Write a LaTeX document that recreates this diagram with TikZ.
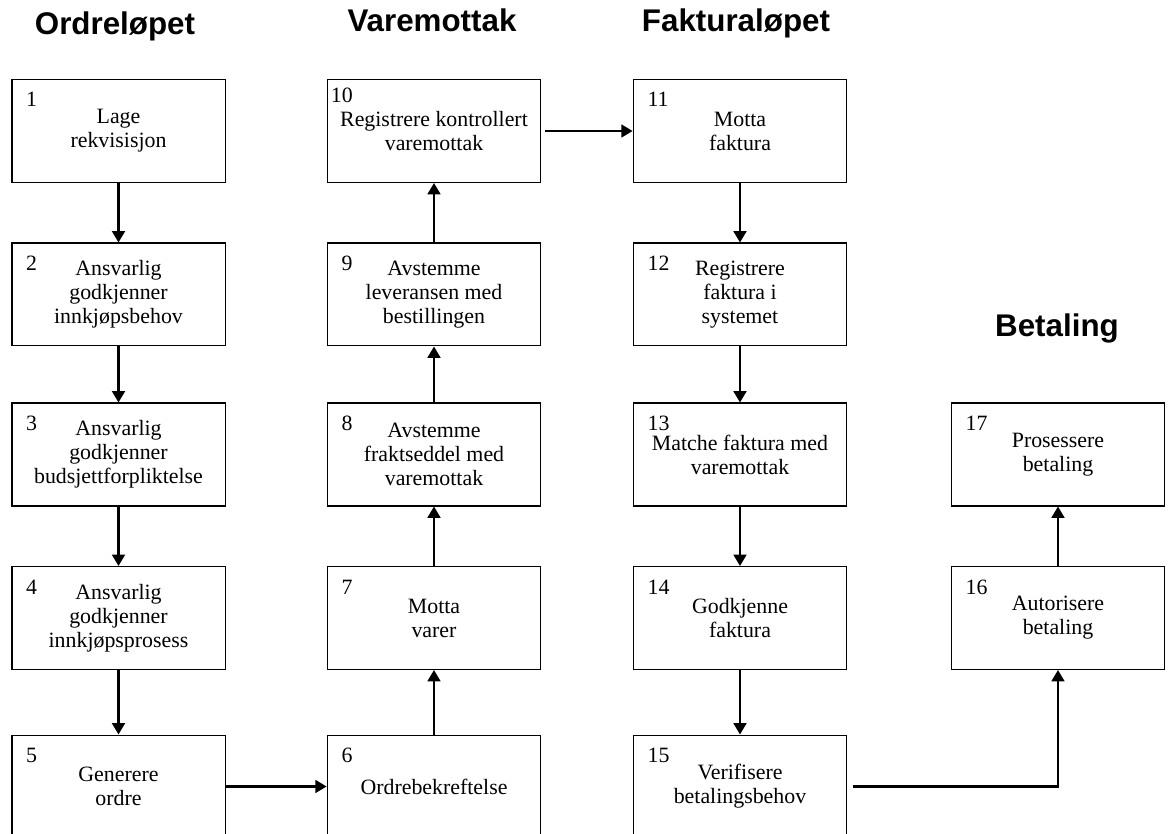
\documentclass[tikz,border=0pt]{standalone}
\usepackage{fontspec}
\setmainfont{Liberation Serif}
\setsansfont{Liberation Sans}
\usetikzlibrary{arrows.meta}

\tikzset{
  stepbox/.style={draw, line width=1pt, minimum width=160pt, minimum height=77pt,
    inner sep=0pt, align=center, font=\fontsize{16.4}{18}\selectfont},
  nr/.style={anchor=base west, inner sep=0pt, font=\fontsize{16.4}{18}\selectfont,
    xshift=11pt, yshift=-21pt},
  lane/.style={anchor=base, inner sep=0pt, font=\sffamily\bfseries\fontsize{23.5}{28}\selectfont},
  flow/.style={line width=2pt, -{Triangle[length=8.5pt,width=9.5pt]}}
}

\begin{document}
\begin{tikzpicture}[x=0.75pt,y=-0.75pt]
\clip (0,0) rectangle (1172,834);
\useasboundingbox (0,0) rectangle (1172,834);

% lanes
\node[lane] (hOrdre) at (115,35) {Ordreløpet};
\node[lane] (hVare) at (432,32) {Varemottak};
\node[lane] (hFaktura) at (736,32) {Fakturaløpet};
\node[lane] (hBetaling) at (1057,337) {Betaling};

% Ordreløpet
\node[stepbox, label={[nr]north west:1}] (b1) at (118.5,131) {Lage\\rekvisisjon};
\node[stepbox, label={[nr]north west:2}] (b2) at (118.5,294.5) {Ansvarlig\\godkjenner\\innkjøpsbehov};
\node[stepbox, label={[nr]north west:3}] (b3) at (118.5,454.5) {Ansvarlig\\godkjenner\\budsjettforpliktelse};
\node[stepbox, label={[nr]north west:4}] (b4) at (118.5,618) {Ansvarlig\\godkjenner\\innkjøpsprosess};
\node[stepbox, label={[nr]north west:5}] (b5) at (118.5,786.5) {Generere\\ordre};

% Varemottak
\node[stepbox, label={[nr]north west:6}] (b6) at (434,786.5) {Ordrebekreftelse};
\node[stepbox, label={[nr]north west:7}] (b7) at (434,618) {Motta\\varer};
\node[stepbox, label={[nr]north west:8}] (b8) at (434,454.5) {Avstemme\\fraktseddel med\\varemottak};
\node[stepbox, label={[nr]north west:9}] (b9) at (434,294.5) {Avstemme\\leveransen med\\bestillingen};
\node[stepbox, label={[nr, xshift=-8pt, yshift=3pt]north west:10}] (b10) at (434,131) {Registrere kontrollert\\varemottak};

% Fakturaløpet
\node[stepbox, label={[nr]north west:11}] (b11) at (740,131) {Motta\\faktura};
\node[stepbox, label={[nr]north west:12}] (b12) at (740,294.5) {Registrere\\faktura i\\systemet};
\node[stepbox, label={[nr]north west:13}] (b13) at (740,454.5) {Matche faktura med\\varemottak};
\node[stepbox, label={[nr]north west:14}] (b14) at (740,618) {Godkjenne\\faktura};
\node[stepbox, label={[nr]north west:15}] (b15) at (740,786.5) {Verifisere\\betalingsbehov};

% Betaling
\node[stepbox, label={[nr]north west:16}] (b16) at (1058,618) {Autorisere\\betaling};
\node[stepbox, label={[nr]north west:17}] (b17) at (1058,454.5) {Prosessere\\betaling};

% connectors
\draw[flow] (b1) -- (b2);
\draw[flow] (b2) -- (b3);
\draw[flow] (b3) -- (b4);
\draw[flow] (b4) -- (b5);
\draw[flow] (b5) -- (b6);
\draw[flow] (b6) -- (b7);
\draw[flow] (b7) -- (b8);
\draw[flow] (b8) -- (b9);
\draw[flow] (b9) -- (b10);
\draw[flow] ([xshift=3pt]b10.east) -- (b11.west);
\draw[flow] (b11) -- (b12);
\draw[flow] (b12) -- (b13);
\draw[flow] (b13) -- (b14);
\draw[flow] (b14) -- (b15);
\draw[flow] ([xshift=4pt]b15.east) -| (b16.south);
\draw[flow] (b16) -- (b17);

\end{tikzpicture}
\end{document}
